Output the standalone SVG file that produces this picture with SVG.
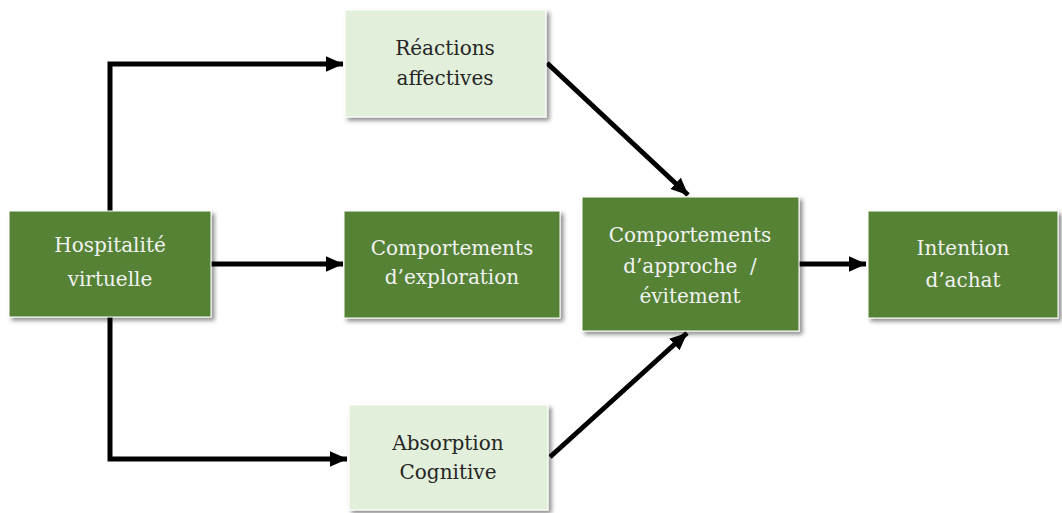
<svg xmlns="http://www.w3.org/2000/svg" width="1062" height="513" viewBox="0 0 1062 513">
<style>
.dark{fill:#548235;stroke:#ffffff;stroke-width:1}
.light{fill:#E2EFDA;stroke:#ffffff;stroke-width:1}
.t{font-family:"DejaVu Serif","Liberation Serif",serif;font-size:20px;text-anchor:middle;white-space:pre}
.tw{fill:#F2F2F2}
.tk{fill:#262626}
.c{fill:none;stroke:#000;stroke-width:5;stroke-linejoin:miter}
</style>
<defs>
<filter id="sh" x="-10%" y="-10%" width="130%" height="130%">
<feDropShadow dx="3" dy="3" stdDeviation="2" flood-color="#000" flood-opacity="0.45"/>
</filter>
<marker id="ah" markerWidth="4" markerHeight="4" refX="3.4" refY="2" orient="auto" markerUnits="strokeWidth" viewBox="0 0 4 4">
<path d="M0,0.45 L3.5,2 L0,3.55 Z" fill="#000"/>
</marker>
</defs>
<rect width="1062" height="513" fill="#fff"/>
<g id="connectors">
<path class="c" d="M110,211 V64 H343" marker-end="url(#ah)"/>
<path class="c" d="M110,317 V459 H347" marker-end="url(#ah)"/>
<path class="c" d="M211,264 H343" marker-end="url(#ah)"/>
<path class="c" d="M547,63 L688,195" marker-end="url(#ah)"/>
<path class="c" d="M550,457 L687,333" marker-end="url(#ah)"/>
<path class="c" d="M799,264 H866" marker-end="url(#ah)"/>
</g>
<g id="hospitalite">
<rect class="dark" x="9" y="211" width="202" height="106" filter="url(#sh)"/>
<text class="t tw" x="110" y="252">Hospitalité</text>
<text class="t tw" x="110" y="286">virtuelle</text>
</g>
<g id="reactions">
<rect class="light" x="345" y="10" width="201" height="107" filter="url(#sh)"/>
<text class="t tk" x="445" y="55">Réactions</text>
<text class="t tk" x="445" y="85">affectives</text>
</g>
<g id="exploration">
<rect class="dark" x="344" y="211" width="216" height="107" filter="url(#sh)"/>
<text class="t tw" x="452" y="255">Comportements</text>
<text class="t tw" x="452" y="284">d’exploration</text>
</g>
<g id="absorption">
<rect class="light" x="349" y="405" width="199" height="105" filter="url(#sh)"/>
<text class="t tk" x="448" y="450">Absorption</text>
<text class="t tk" x="448" y="479">Cognitive</text>
</g>
<g id="approche">
<rect class="dark" x="582" y="197" width="217" height="134" filter="url(#sh)"/>
<text class="t tw" x="690" y="242">Comportements</text>
<text class="t tw" x="690" y="273" xml:space="preserve">d’approche  /</text>
<text class="t tw" x="690" y="303">évitement</text>
</g>
<g id="intention">
<rect class="dark" x="868" y="211" width="190" height="107" filter="url(#sh)"/>
<text class="t tw" x="963" y="255">Intention</text>
<text class="t tw" x="963" y="287">d’achat</text>
</g>
</svg>
